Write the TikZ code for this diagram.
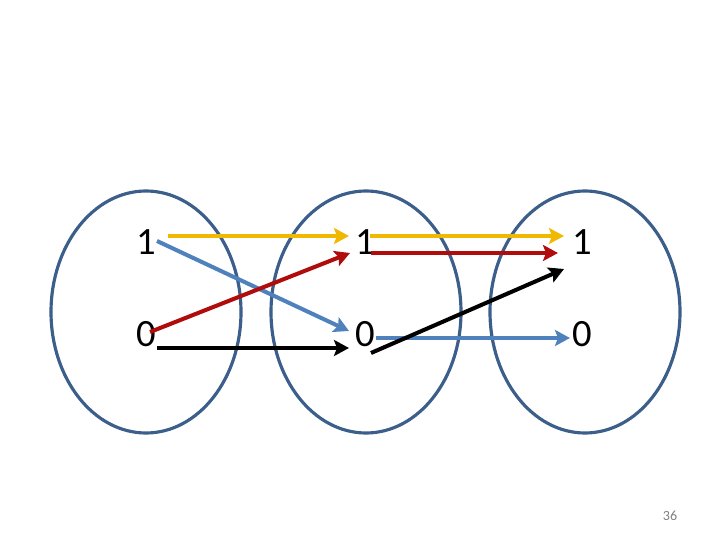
\documentclass[tikz,border=0pt]{standalone}
\usepackage{fontspec}
\setmainfont{Carlito}
\usetikzlibrary{arrows.meta}
\definecolor{ellblue}{HTML}{3B5E8A}
\definecolor{arrblue}{HTML}{4F81BD}
\definecolor{arryel}{HTML}{F0B800}
\definecolor{arrred}{HTML}{B00C0C}
\tikzset{
  set/.style={draw=ellblue,line width=1.8pt},
  bit/.style={inner sep=0pt,font=\fontsize{22}{26}\selectfont},
  arr/.style={line width=2.3pt,-{Stealth[length=0.3cm,width=0.32cm,inset=0.06cm]}},
}
\begin{document}
\begin{tikzpicture}[x=0.02cm,y=-0.02cm]
\useasboundingbox (0,0) rectangle (720,540);
\draw[set] (146,312) ellipse [x radius=95,y radius=121];
\draw[set] (366,312) ellipse [x radius=95,y radius=121];
\draw[set] (585,312) ellipse [x radius=95,y radius=121];
\node[bit] (a1) at (146,242) {1};
\node[bit] (a0) at (146,334) {0};
\node[bit] (b1) at (365,242) {1};
\node[bit] (b0) at (365,334) {0};
\node[bit] (c1) at (582,242) {1};
\node[bit] (c0) at (582,334) {0};
% endpoints
\coordinate (y1s) at (168,236); \coordinate (y1e) at (349,236);
\coordinate (u1s) at (157,241); \coordinate (u1e) at (349,331);
\coordinate (r1s) at (150,332); \coordinate (r1e) at (350,253);
\coordinate (k1s) at (157,348); \coordinate (k1e) at (349,348);
\coordinate (y2s) at (370,236); \coordinate (y2e) at (564,236);
\coordinate (r2s) at (371,253); \coordinate (r2e) at (558,253);
\coordinate (k2s) at (371,353); \coordinate (k2e) at (564,269);
\coordinate (u2s) at (376,338); \coordinate (u2e) at (570,338);
\draw[arr,arryel] (y1s) -- (y1e);
\draw[arr,arrblue] (u1s) -- (u1e);
\draw[arr,arrred] (r1s) -- (r1e);
\draw[arr,black] (k1s) -- (k1e);
\draw[arr,arryel] (y2s) -- (y2e);
\draw[arr,arrred] (r2s) -- (r2e);
\draw[arr,arrblue] (u2s) -- (u2e);
\draw[arr,black] (k2s) -- (k2e);
\node[font=\fontsize{8}{10}\selectfont,text=gray] (pg) at (670,516) {36};
\end{tikzpicture}
\end{document}
